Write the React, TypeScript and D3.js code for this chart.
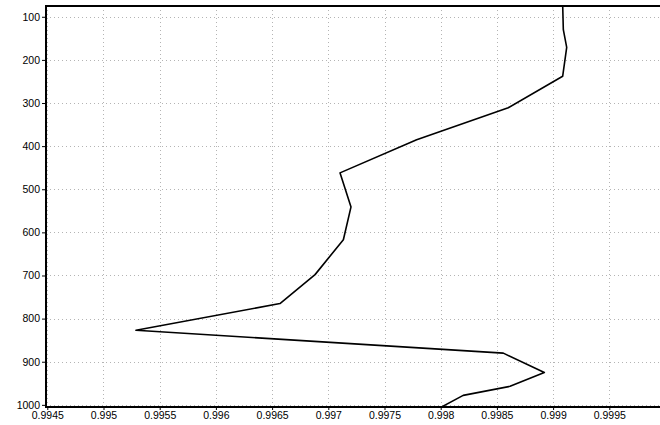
import React, { useEffect, useRef } from "react";
import * as d3 from "d3";

// profile: pressure level vs. value
const levels = [70, 130, 171, 238, 311, 385, 462, 541, 617, 698, 765, 827, 880, 925, 957, 978, 1006];
const values = [
  0.999085, 0.999091, 0.999121, 0.999085, 0.998601, 0.997786, 0.997104, 0.997202,
  0.997134, 0.996882, 0.99657, 0.995289, 0.998557, 0.998922, 0.998617, 0.9982, 0.998,
];
const yTicks = [100, 200, 300, 400, 500, 600, 700, 800, 900, 1000];
const xTicks = [0.9945, 0.995, 0.9955, 0.996, 0.9965, 0.997, 0.9975, 0.998, 0.9985, 0.999, 0.9995];

const App = () => {
  const svgRef = useRef<SVGSVGElement>(null);

  useEffect(() => {
    const width = 660, height = 425;
    const left = 46, top = 6, bottom = 407;

    const x = d3.scaleLinear().domain([0.9945, 1.0]).range([47.3, 665.5]);
    const y = d3.scaleLinear().domain([75, 1005]).range([top, bottom]);

    const svg = d3.select(svgRef.current)
      .attr("width", width)
      .attr("height", height);
    svg.selectAll("*").remove();

    svg.append("defs").append("clipPath").attr("id", "plot")
      .append("rect")
      .attr("x", left).attr("y", top)
      .attr("width", width - left).attr("height", bottom - top);

    // grid
    const grid = svg.append("g")
      .attr("stroke", "#b4b4b4")
      .attr("stroke-dasharray", "1,3")
      .attr("shape-rendering", "crispEdges");
    grid.selectAll("line.gx")
      .data(xTicks)
      .enter().append("line")
      .attr("x1", d => Math.round(x(d)) + 0.5)
      .attr("x2", d => Math.round(x(d)) + 0.5)
      .attr("y1", top)
      .attr("y2", bottom);
    grid.selectAll("line.gy")
      .data(yTicks)
      .enter().append("line")
      .attr("y1", d => Math.round(y(d)) + 0.5)
      .attr("y2", d => Math.round(y(d)) + 0.5)
      .attr("x1", left)
      .attr("x2", width);

    // data line
    const line = d3.line<number>()
      .x((d, i) => x(values[i]))
      .y(d => y(d));
    svg.append("path")
      .datum(levels)
      .attr("clip-path", "url(#plot)")
      .attr("fill", "none")
      .attr("stroke", "#000")
      .attr("stroke-width", 1.6)
      .attr("stroke-linejoin", "round")
      .attr("d", line);

    // axes
    const yAxis = svg.append("g")
      .attr("transform", `translate(${left},0)`)
      .call(d3.axisLeft(y).tickValues(yTicks).tickSize(4).tickPadding(2).tickFormat(d3.format("d")));
    yAxis.select(".domain").remove();

    const xAxis = svg.append("g")
      .attr("transform", `translate(0,${bottom})`)
      .call(d3.axisBottom(x).tickValues(xTicks).tickSize(3).tickPadding(2)
        .tickFormat(d => String(+(+d).toFixed(4))));
    xAxis.select(".domain").remove();

    svg.selectAll(".tick text")
      .attr("font-family", "Liberation Sans, Arial, sans-serif")
      .attr("font-size", 10.5)
      .attr("fill", "#000");
    svg.selectAll(".tick line").attr("stroke", "#000");

    // frame
    svg.append("line")
      .attr("x1", left).attr("x2", left)
      .attr("y1", top - 1).attr("y2", bottom + 1)
      .attr("stroke", "#000").attr("stroke-width", 2);
    svg.append("line")
      .attr("x1", left - 1).attr("x2", width)
      .attr("y1", top).attr("y2", top)
      .attr("stroke", "#000").attr("stroke-width", 2);
    svg.append("line")
      .attr("x1", left - 1).attr("x2", width)
      .attr("y1", bottom).attr("y2", bottom)
      .attr("stroke", "#000").attr("stroke-width", 2);
  }, []);

  return (
    <svg
      ref={svgRef}
      style={{ position: "absolute", left: 0, top: 0, background: "#fff" }}
    ></svg>
  );
};

export default App;
